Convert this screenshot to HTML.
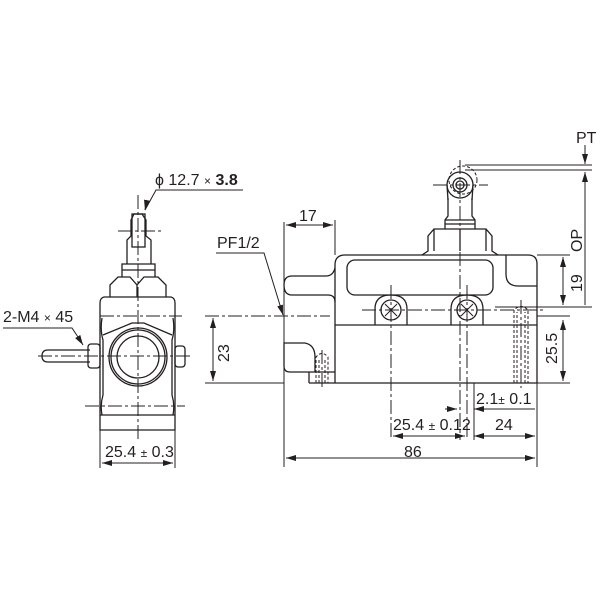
<!DOCTYPE html>
<html><head><meta charset="utf-8"><style>
html,body{margin:0;padding:0;background:#fff;}
svg{display:block}
text{font-family:"Liberation Sans",sans-serif;fill:#231f20;font-size:16px}
</style></head><body>
<svg width="600" height="600" viewBox="0 0 600 600" xmlns="http://www.w3.org/2000/svg">
<defs>
<marker id="a" viewBox="0 0 10 6" refX="10" refY="3" markerWidth="10" markerHeight="6" orient="auto-start-reverse" markerUnits="userSpaceOnUse"><path d="M0,0 L10,3 L0,6 z" fill="#231f20"/></marker>
</defs>
<g stroke="#231f20" fill="none" stroke-width="1.3">
<!-- LEFT VIEW -->
<path d="M100,303 Q100,298 104,297 L171,297 Q175,298 175,303 L175,420 L175,430 L100,430 L100,303 Z"/>
<line x1="100" y1="415" x2="175" y2="415"/>
<path d="M102,318 Q100,330 103,340 L103,395 Q100,405 102,415"/>
<path d="M173,318 Q175,330 172,340 L172,395 Q175,405 173,415"/>
<path d="M103,335 L132,323 L144,323 L172,335"/>
<circle cx="138" cy="357" r="29"/>
<circle cx="138" cy="357" r="27"/>
<circle cx="138" cy="357" r="21"/>
<path d="M110,297 L110,285 L118,277 L130,277 L137,285 L137,297 M137,285 L144,277 L158,277 L166,285 L166,297"/>
<path d="M122,277 L122,264 L155,264 L155,277 M122,270 L155,270"/>
<path d="M127,264 L127,240 L131,236 L131,220 L134,214 L142,214 L146,220 L146,236 L151,240 L151,264"/>
<rect x="132" y="214" width="13" height="33"/>
<path d="M90,350 L48,350 Q42,350 42,356 Q42,362 48,362 L90,362"/>
<rect x="88" y="344" width="12" height="24" rx="3"/>
<rect x="175" y="346" width="10" height="21" rx="3"/>
<line x1="100" y1="430" x2="100" y2="468" stroke-width="1"/>
<line x1="175" y1="430" x2="175" y2="468" stroke-width="1"/>
<line x1="102" y1="463" x2="173" y2="463" stroke-width="1" marker-start="url(#a)" marker-end="url(#a)"/>
<g stroke-width="1" stroke-dasharray="14,3,3,3">
<line x1="138" y1="195" x2="138" y2="440"/>
<line x1="118" y1="231" x2="162" y2="231"/>
<line x1="100" y1="316" x2="182" y2="316"/>
<line x1="38" y1="356" x2="192" y2="356"/>
<line x1="85" y1="406" x2="185" y2="406"/>
</g>
<path d="M243,190 L156,190 L145,210" stroke-width="1" />
<line x1="147" y1="200" x2="145" y2="210" stroke-width="1" marker-end="url(#a)"/>
<path d="M3,328 L72,328 L80,340" stroke-width="1"/>
<line x1="78" y1="337" x2="83" y2="345" stroke-width="1" marker-end="url(#a)"/>
<line x1="205" y1="316" x2="330" y2="316" stroke-width="1" stroke-dasharray="14,3,3,3"/>
<line x1="205" y1="383" x2="284" y2="383" stroke-width="1"/>
<line x1="213" y1="318" x2="213" y2="381" stroke-width="1" marker-start="url(#a)" marker-end="url(#a)"/>
<path d="M216,253 L264,253 L283,315" stroke-width="1" marker-end="url(#a)"/>

<!-- RIGHT VIEW BODY -->
<path d="M335,325 L335,265 Q335,255 345,255 L528,255 Q537,255 537,264 L537,383 L309,383"/>
<path d="M335,268 Q333,276 326,276 L292,276 Q284,276 284,285 Q284,295 292,295 L328,295 Q335,295 335,302"/>
<path d="M335,325 L537,325"/>
<path d="M335,372 L290,372 Q284,372 284,366 L284,343 L305,343 Q315,345 315,357 L315,372"/>
<path d="M335,325 L335,383"/>
<path d="M309,372 L309,383"/>
<rect x="347" y="260" width="146" height="35" rx="8"/>
<path d="M506,255 L506,274 Q506,286 518,286 L537,286"/>
<path d="M375,325 L375,309 Q375,295 391,295 Q407,295 407,309 L407,325"/>
<path d="M451,325 L451,309 Q451,295 467,295 Q483,295 483,309 L483,325"/>
<circle cx="391" cy="310" r="10"/>
<circle cx="467" cy="310" r="10"/>
<path d="M385,304 L397,316 M397,304 L385,316 M461,304 L473,316 M473,304 L461,316" stroke-width="1"/>
<!-- plunger -->
<path d="M422,255 L428,251 L428,236 L434,229 L486,229 L492,236 L492,251 L498,255"/>
<path d="M434,229 L434,251 M486,229 L486,251 M460,229 L460,251"/>
<path d="M445,229 L445,220 L448,216 L448,198 M475,229 L475,220 L472,216 L472,198 M445,220 L475,220 M445,224 L475,224"/>
<circle cx="460" cy="185" r="13"/>
<circle cx="460" cy="185" r="7"/>
<circle cx="460" cy="185" r="4"/>
<path d="M447,185 L448,200 M473,185 L472,200"/>
<circle cx="463" cy="180" r="14" stroke-dasharray="3,2" stroke-width="1"/>
<g stroke-width="1" stroke-dasharray="3,2">
<path d="M514,383 L514,310 Q521,303 528,310 L528,383 M517,383 L517,312 M525,383 L525,312"/>
<path d="M316,383 L316,357 Q322,350 328,357 L328,383 M319,383 L319,360 M325,383 L325,360"/>
</g>
<g stroke-width="1" stroke-dasharray="14,3,3,3">
<line x1="460" y1="160" x2="460" y2="440"/>
<line x1="433" y1="185" x2="488" y2="185"/>
<line x1="362" y1="310" x2="545" y2="310"/>
<line x1="391" y1="285" x2="391" y2="440"/>
<line x1="467" y1="285" x2="467" y2="440"/>
<line x1="521" y1="300" x2="521" y2="388"/>
<line x1="322" y1="350" x2="322" y2="388"/>
</g>
<line x1="284" y1="222" x2="284" y2="467" stroke-width="1"/>
<line x1="335" y1="220" x2="335" y2="255" stroke-width="1"/>
<line x1="286" y1="225" x2="333" y2="225" stroke-width="1" marker-start="url(#a)" marker-end="url(#a)"/>
<line x1="537" y1="383" x2="537" y2="467" stroke-width="1"/>
<line x1="286" y1="458" x2="535" y2="458" stroke-width="1" marker-start="url(#a)" marker-end="url(#a)"/>
<line x1="393" y1="436" x2="465" y2="436" stroke-width="1" marker-start="url(#a)" marker-end="url(#a)"/>
<line x1="474" y1="436" x2="535" y2="436" stroke-width="1" marker-start="url(#a)" marker-end="url(#a)"/>
<line x1="474" y1="383" x2="474" y2="440" stroke-width="1"/>
<line x1="445" y1="409" x2="457" y2="409" stroke-width="1" marker-end="url(#a)"/>
<line x1="535" y1="409" x2="474" y2="409" stroke-width="1" marker-end="url(#a)"/>
<line x1="537" y1="255" x2="570" y2="255" stroke-width="1"/>
<line x1="537" y1="316" x2="570" y2="316" stroke-width="1"/>
<line x1="537" y1="383" x2="570" y2="383" stroke-width="1"/>
<line x1="495" y1="307" x2="592" y2="307" stroke-width="1"/>
<line x1="563" y1="257" x2="563" y2="305" stroke-width="1" marker-start="url(#a)" marker-end="url(#a)"/>
<line x1="563" y1="320" x2="563" y2="381" stroke-width="1" marker-start="url(#a)" marker-end="url(#a)"/>
<line x1="465" y1="165" x2="592" y2="165" stroke-width="1"/>
<line x1="465" y1="170" x2="592" y2="170" stroke-width="1"/>
<line x1="585" y1="172" x2="585" y2="305" stroke-width="1" marker-start="url(#a)"/>
<line x1="585" y1="145" x2="585" y2="164" stroke-width="1" marker-end="url(#a)"/>
</g>
<text x="155" y="185">ϕ 12.7 <tspan font-size="12">×</tspan> <tspan font-weight="bold">3.8</tspan></text>
<text x="3" y="322">2-M4 <tspan font-size="12">×</tspan> 45</text>
<text x="217" y="248">PF1/2</text>
<text x="299" y="221">17</text>
<text x="105" y="457" font-size="15">25.4 <tspan font-size="12">±</tspan> 0.3</text>
<text x="476" y="404">2.1<tspan font-size="12">±</tspan> 0.1</text>
<text x="393" y="430" font-size="15">25.4 <tspan font-size="12">±</tspan> 0.12</text>
<text x="495" y="430">24</text>
<text x="404" y="457">86</text>
<text x="576" y="143">PT</text>
<text transform="translate(582,292) rotate(-90)">19</text>
<text transform="translate(582,252) rotate(-90)">OP</text>
<text transform="translate(557,364) rotate(-90)">25.5</text>
<text transform="translate(229,362) rotate(-90)">23</text>
</svg>
</body></html>
